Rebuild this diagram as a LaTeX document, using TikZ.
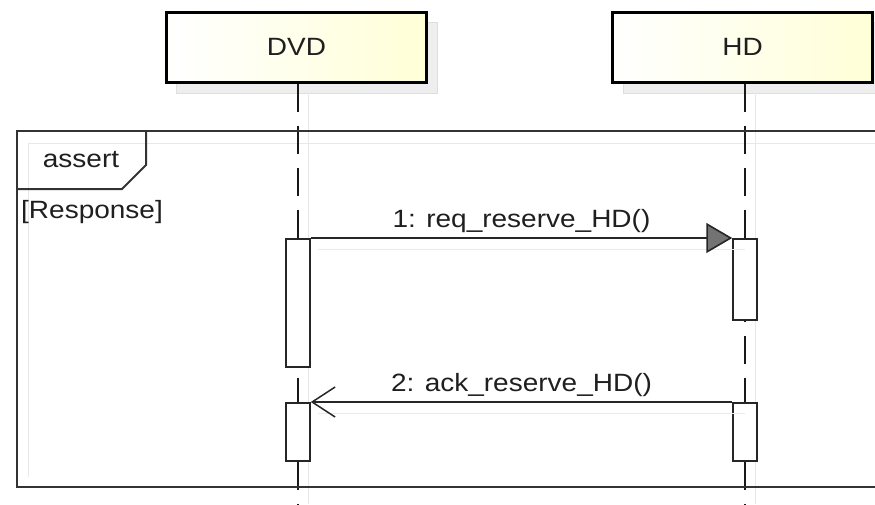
\documentclass[tikz,border=0pt]{standalone}
\usepackage{fontspec}
\setmainfont[FakeStretch=1.12]{Liberation Sans}
\usetikzlibrary{arrows.meta}
\definecolor{boxyellow}{RGB}{255,255,215}
\definecolor{shade}{RGB}{222,222,222}
\tikzset{
  x=1pt, y=-1pt,
  every node/.style={font=\fontsize{25}{28}\selectfont, text=black!88},
  headbox/.style={draw=black, line width=3pt, minimum width=260pt, minimum height=70pt,
    left color=white, right color=boxyellow, inner sep=0pt},
  headshadow/.style={fill=shade!50, draw=shade, line width=1pt},
  lifeline/.style={draw=black!90, line width=1.8pt, dash pattern=on 28pt off 14pt},
  lifeshadow/.style={draw=shade!70, line width=1pt},
  actbox/.style={draw=black!85, fill=white, line width=1.5pt, minimum width=24pt, inner sep=0pt},
  framebox/.style={draw=black!80, line width=2pt},
  msg/.style={draw=black!85, line width=1.6pt},
  msgshadow/.style={draw=shade!60, line width=1pt},
  lbl/.style={inner sep=1pt}
}
\begin{document}
\begin{tikzpicture}
\useasboundingbox (0,0) rectangle (875,504);
% shadows of the heads
\fill[headshadow] (176,22) rectangle (437,93);
\fill[headshadow] (623,22) rectangle (882,93);
% frame shadow
\draw[lifeshadow] (875,143) -- (28,143) -- (28,477);
% lifeline shadows
\draw[lifeshadow] (308,93) -- (308,504);
\draw[lifeshadow] (755,93) -- (755,504);
% heads
\node[headbox] (dvd) at (296.5,47) {DVD};
\node[headbox] (hd) at (742.5,47) {HD};
% lifelines
\coordinate (dvdEnd) at (298,504);
\coordinate (hdEnd) at (745,504);
\draw[lifeline] (dvd.south -| dvdEnd) -- (dvdEnd);
\draw[lifeline] (hd.south -| hdEnd) -- (hdEnd);
% frame
\coordinate (fTR) at (875,131);
\coordinate (fTL) at (17,131);
\coordinate (fBL) at (17,487);
\coordinate (fBR) at (875,487);
\draw[framebox] (fTR) -- (fTL) -- (fBL) -- (fBR);
\coordinate (tabA) at (146,131);
\coordinate (tabB) at (146,165);
\coordinate (tabC) at (122,189);
\coordinate (tabD) at (17,189);
\draw[framebox] (tabA) -- (tabB) -- (tabC) -- (tabD);
\node[lbl] (op) at (81,160) {assert};
\node[lbl, anchor=west] (guard) at (20,212) {[Response]};
% activations
\node[actbox, minimum height=128pt, anchor=north] (dvdA1) at (298,238) {};
\node[actbox, minimum height=81pt, anchor=north] (hdA1) at (745,238) {};
\node[actbox, minimum height=58pt, anchor=north] (dvdA2) at (298,402) {};
\node[actbox, minimum height=58pt, anchor=north] (hdA2) at (745,402) {};
% message shadows
\draw[msgshadow] (318,249) -- (745,249);
\draw[msgshadow] (318,413) -- (745,413);
% messages
\draw[msg, -{Triangle[length=26pt, width=30pt, fill=black!55]}] (dvdA1.north east) -- (hdA1.north west)
  node[lbl, midway, above=4pt] (m1) {1: req\_reserve\_HD()};
\draw[msg, -{Straight Barb[length=23pt, width=30pt, line width=1.5pt]}] (hdA2.north west) -- (dvdA2.north east)
  node[lbl, midway, above=4pt] (m2) {2: ack\_reserve\_HD()};
\end{tikzpicture}
\end{document}
